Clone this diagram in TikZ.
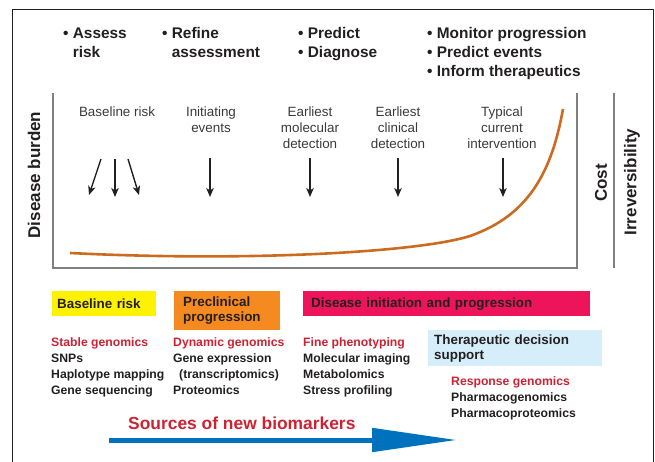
\documentclass[tikz,border=0pt]{standalone}
\usepackage{fontspec}
\setmainfont{Liberation Sans}
\usetikzlibrary{arrows.meta}

\definecolor{burdenorange}{HTML}{CC6A1F}
\definecolor{axisgray}{HTML}{808080}
\definecolor{txtdark}{HTML}{231F20}
\definecolor{lblgray}{HTML}{3A3A3A}
\definecolor{riskyellow}{HTML}{FFF200}
\definecolor{preorange}{HTML}{F58A20}
\definecolor{diseasepink}{HTML}{ED145B}
\definecolor{therablue}{HTML}{D6EEFA}
\definecolor{srcred}{HTML}{CC2232}
\definecolor{flowblue}{HTML}{0071BC}

\tikzset{
  toptxt/.style={font=\bfseries\fontsize{15.4bp}{19bp}\selectfont, align=left,
    anchor=north west, inner sep=0pt, text=txtdark},
  stagelbl/.style={font=\fontsize{13.4bp}{16bp}\selectfont, align=center,
    anchor=north, inner sep=0pt, text=lblgray},
  stagearr/.style={-{Stealth[length=9bp,width=7.5bp,inset=2.5bp]}, line width=1.4bp, txtdark},
  axisline/.style={axisgray, line width=1.5bp},
  sidelbl/.style={font=\bfseries\fontsize{17bp}{20bp}\selectfont, rotate=90,
    inner sep=0pt, text=txtdark},
  phasebox/.style={font=\bfseries\fontsize{13.4bp}{15bp}\selectfont, align=left,
    anchor=north west, inner ysep=0pt, text=txtdark},
  srclist/.style={font=\bfseries\fontsize{12.2bp}{16bp}\selectfont, align=left,
    anchor=north west, inner sep=0pt, text=txtdark},
}

\begin{document}
\begin{tikzpicture}[x=1bp, y=-1bp]

\useasboundingbox (0,0) rectangle (655,462);

% outer frame (runs off the bottom edge)
\draw[txtdark, line width=1bp] (12,10) rectangle (653,480);

% --- Goals across the top ---
\node[toptxt] (assess)  at (63,27.5)  {• Assess\\\phantom{• }risk};
\node[toptxt] (refine)  at (162,27.5) {• Refine\\\phantom{• }assessment};
\node[toptxt] (predict) at (298,27.5) {• Predict\\• Diagnose};
\node[toptxt] (monitor) at (427,27.5) {• Monitor progression\\• Predict events\\• Inform therapeutics};

% --- Plot frame ---
\draw[axisline] (53,93) -- (53,268) -- (577,268) -- (577,93);
\draw[axisline] (614,93) -- (614,268);

\node[sidelbl] (burden) at (34,175)  {Disease burden};
\node[sidelbl] (cost)   at (601,183) {Cost};
\node[sidelbl] (irrev)  at (632,182) {Irreversibility};

% Disease burden curve
\draw[burdenorange, line width=2.6bp]
  (70,253) .. controls (250,262) and (420,252) .. (470,236)
           .. controls (530,215) and (552,170) .. (563,109);

% --- Stages with arrows ---
\foreach \x/\txt/\nm in {117/{Baseline risk}/base,
                         211/{Initiating\\events}/init,
                         310/{Earliest\\molecular\\detection}/mol,
                         398/{Earliest\\clinical\\detection}/clin,
                         502/{Typical\\current\\intervention}/typ}
  \node[stagelbl] (\nm) at (\x,107) {\txt};

% three arrows under baseline risk
\coordinate (base-a1) at (101,159); \coordinate (base-b1) at (89,195);
\coordinate (base-a2) at (115,159); \coordinate (base-b2) at (115,197);
\coordinate (base-a3) at (128,159); \coordinate (base-b3) at (139,195);
\foreach \i in {1,2,3}
  \draw[stagearr] (base-a\i) -- (base-b\i);

\foreach \x/\nm in {210/init, 310/mol, 398/clin, 503/typ} {
  \coordinate (\nm-a) at (\x,158);
  \coordinate (\nm-b) at (\x,197);
  \draw[stagearr] (\nm-a) -- (\nm-b);
}

% --- Phase boxes ---
\node[phasebox, fill=riskyellow, inner xsep=5bp, text width=94bp, minimum height=25bp]
  (riskbox) at (52,291) {Baseline risk};
\node[phasebox, fill=preorange, inner xsep=9bp, text width=88bp, minimum height=39bp]
  (prebox) at (174,291) {Preclinical\\progression};
\node[phasebox, fill=diseasepink, inner xsep=8bp, text width=271bp, minimum height=25bp]
  (disbox) at (303,291) {Disease initiation and progression};
\node[phasebox, fill=therablue, inner xsep=6bp, text width=162bp, minimum height=36bp]
  (therbox) at (428,330) {Therapeutic decision\\support};

% --- Biomarker sources ---
\node[srclist] (stable)  at (51,337.6)
  {\textcolor{srcred}{Stable genomics}\\SNPs\\Haplotype mapping\\Gene sequencing};
\node[srclist] (dynamic) at (173,337.6)
  {\textcolor{srcred}{Dynamic genomics}\\Gene expression\\\hspace{6bp}(transcriptomics)\\Proteomics};
\node[srclist] (fine)    at (303,337.6)
  {\textcolor{srcred}{Fine phenotyping}\\Molecular imaging\\Metabolomics\\Stress profiling};
\node[srclist] (resp)    at (451,376.6)
  {\textcolor{srcred}{Response genomics}\\Pharmacogenomics\\Pharmacoproteomics};

% Sources arrow
\node[font=\bfseries\fontsize{17.4bp}{20bp}\selectfont, text=srcred, anchor=west, inner sep=0pt]
  (srctitle) at (128,423) {Sources of new biomarkers};
\coordinate (flow-s) at (109,440);
\coordinate (flow-e) at (457,440);
\draw[flowblue, line width=5bp, -{Triangle[length=85bp,width=23bp]}] (flow-s) -- (flow-e);

\end{tikzpicture}
\end{document}
